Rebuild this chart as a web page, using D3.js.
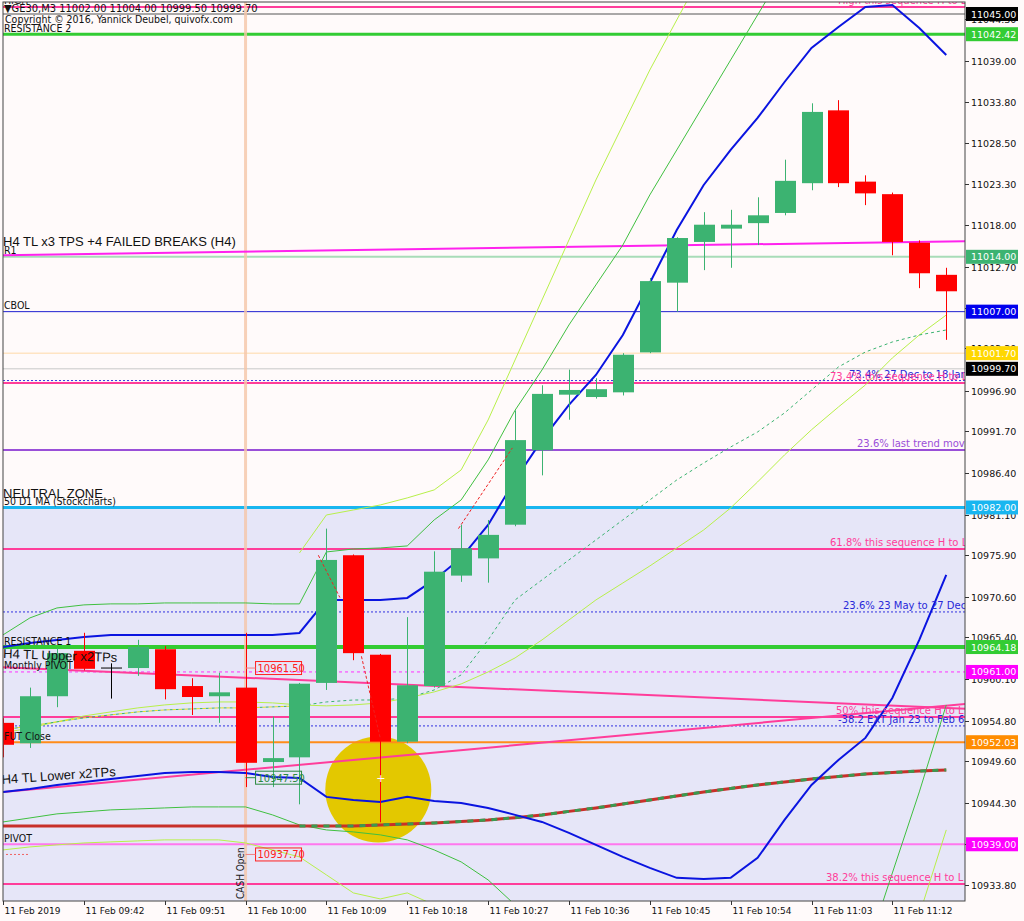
<!DOCTYPE html>
<html><head><meta charset="utf-8">
<script src="https://cdn.jsdelivr.net/npm/d3@7"></script>
<style>body{margin:0;background:#fffafa;} svg{display:block}</style>
</head><body><svg id="c" width="1024" height="921"></svg>
<script>
// ---------------- DATA ----------------
const barTimes = ["09:33","09:36","09:39","09:42","09:45","09:48","09:51","09:54","09:57","10:00","10:03","10:06","10:09","10:12","10:15","10:18","10:21","10:24","10:27","10:30","10:33","10:36","10:39","10:42","10:45","10:48","10:51","10:54","10:57","11:00","11:03","11:06","11:09","11:12","11:15","11:18"];
const open  = [10954.5,10951.9,10957.9,10963.7,10961.5,10961.5,10963.9,10959.2,10957.9,10959.0,10949.5,10950.1,10959.6,10975.9,10963.2,10952.1,10959.2,10973.3,10975.5,10979.8,10989.3,10996.4,10996.1,10996.7,11001.8,11010.7,11015.9,11017.6,11018.3,11019.6,11023.4,11032.7,11023.6,11022.0,11015.8,11011.7];
const high  = [10955.1,10959.0,10964.1,10966.0,10962.1,10965.1,10964.3,10960.2,10960.9,10966.0,10955.3,10959.6,10979.3,10976.0,10963.3,10968.0,10976.4,10979.8,10980.4,10994.4,10997.6,10999.6,10998.5,11001.7,11011.3,11016.5,11019.7,11020.0,11021.6,11026.4,11033.6,11034.0,11024.4,11022.2,11016.1,11012.6];
const low   = [10950.1,10951.3,10956.5,10961.2,10957.6,10960.5,10957.5,10955.5,10954.5,10946.3,10946.3,10944.1,10958.7,10962.5,10941.8,10951.9,10959.0,10972.5,10972.4,10979.6,10986.1,10993.2,10995.9,10996.3,11001.7,11007.0,11012.3,11012.6,11015.5,11019.3,11022.5,11022.9,11020.6,11014.2,11010.0,11003.4];
const close = [10951.7,10957.9,10963.4,10961.4,10961.5,10964.2,10958.8,10957.8,10958.4,10949.4,10950.0,10959.5,10975.3,10963.4,10952.1,10959.3,10973.8,10976.8,10978.5,10990.6,10996.5,10997.0,10997.1,11001.5,11010.9,11016.4,11018.1,11018.1,11019.3,11023.7,11032.5,11023.4,11022.1,11015.9,11011.9,11009.6];

const channelUpper = [10964.19,10964.70,10965.09,10965.47,10965.73,10965.73,10965.73,10965.73,10965.73,10965.73,10965.73,10965.98,10970.19,10970.19,10970.19,10970.45,10972.75,10975.56,10979.77,10985.51,10990.62,10995.09,10998.92,11004.02,11010.66,11017.43,11023.17,11027.64,11031.73,11036.32,11040.66,11043.35,11045.90,11046.15,11043.22,11039.77];
const channelLower = [10945.68,10946.07,10946.58,10946.96,10947.34,10947.73,10948.11,10948.24,10948.24,10948.11,10947.60,10947.47,10945.05,10944.66,10944.41,10945.05,10944.53,10944.28,10943.64,10942.75,10941.85,10940.45,10938.92,10937.39,10935.98,10934.71,10934.58,10934.71,10937.26,10942.11,10946.58,10949.77,10952.58,10957.68,10965.09,10973.39];
const bandUpper = [10965.73,10967.90,10969.17,10969.56,10969.69,10969.69,10969.81,10969.81,10969.81,10969.81,10969.69,10969.69,10976.32,10976.70,10976.83,10977.09,10980.41,10982.96,10988.07,10994.41,10999.56,11005.30,11010.41,11015.51,11021.90,11027.64,11033.39,11039.13,11044.88,11050.62,11056.36];
const bandLower = [10941.85,10942.36,10942.88,10943.13,10943.39,10943.51,10943.64,10943.77,10943.77,10943.77,10942.75,10941.47,10940.83,10940.58,10940.20,10939.56,10938.28,10936.75,10934.45,10931.26,10928.07,10920,10920,10920,10920,10920,10920,10920,10920,10920,10920,10920,10924.88,10935.34,10945.68,10956.79];
const outerUpperStart = 11;
const outerUpper = [10976.19,10981.04,10981.68,10982.32,10983.22,10984.24,10986.79,10993.17,11000.83,11008.49,11016.15,11023.81,11030.83,11037.85,11044.24,11050.62];
const outerLower = [10938.28,10938.66,10938.92,10939.17,10939.30,10939.43,10939.56,10939.56,10939.56,10939.17,10938.28,10937.39,10935.09,10932.79,10932.02,10932.79,10931.26,10929.35,10920,10920,10920,10920,10920,10920,10920,10920,10920,10920,10920,10920,10920,10920,10920,10920,10929.99,10940.83];
const maDashed = [10953.60,10954.11,10954.63,10955.13,10955.52,10955.90,10956.15,10956.28,10956.41,10956.41,10956.54,10956.67,10957.17,10957.42,10957.42,10957.68,10958.70,10960.62,10965.09,10970.19,10972.75,10975.30,10977.85,10980.41,10982.96,10985.51,10987.68,10989.72,10991.64,10994.07,10997.00,10999.94,11001.85,11003.13,11004.02,11004.66];
const maSolid = [10953.21,10953.85,10954.63,10955.38,10955.90,10956.41,10956.79,10957.05,10957.17,10957.17,10957.05,10956.79,10956.67,10956.79,10957.05,10957.68,10958.45,10959.47,10961.00,10962.79,10965.09,10967.64,10970.19,10972.36,10974.53,10976.83,10979.13,10981.94,10985.26,10988.71,10991.92,10994.83,10997.64,11001.09,11004.02,11006.57];
const maSlow = [10941.34,10941.34,10941.34,10941.34,10941.34,10941.34,10941.34,10941.34,10941.34,10941.34,10941.34,10941.34,10941.34,10941.34,10941.47,10941.60,10941.73,10941.90,10942.11,10942.40,10942.75,10943.20,10943.64,10944.15,10944.66,10945.17,10945.68,10946.13,10946.58,10946.96,10947.34,10947.66,10947.98,10948.17,10948.36,10948.49];

const levelNames  = ["HIGH","HIGH2","RESISTANCE 2","R1","CBOL","GOLD","BID","FIB734B","FIB734P","FIB236L","50 D1 MA","FIB618","FIB236M","RESISTANCE 1","Monthly PIVOT","FIB50","EXT382","FUT Close","PIVOT","FIB382"];
const levelValues = [11045.9,11045.0,11042.42,11014.0,11007.0,11001.7,10999.7,10998.2,10997.9,10989.34,10982.0,10976.7,10968.66,10964.18,10961.0,10955.26,10954.11,10952.03,10939.0,10933.94];
const leftTexts   = ["HIGH","","RESISTANCE 2","R1","CBOL","","","","","","50 D1 MA (Stockcharts)","","","RESISTANCE 1","Monthly PIVOT","","","FUT Close","PIVOT",""];
const rightTexts  = ["High  this sequence H to L","","","","","","","73.4% 27 Dec to 18 Jan","73.4% this sequence H to L","23.6% last trend move","","61.8%  this sequence H to L","23.6%  23 May to 27 Dec","","","50%  this sequence H to L","-38.2  EXT Jan 23 to Feb 6","","","38.2%  this sequence H to L"];
const priceBoxes  = [11045.00,11042.42,11014.00,11007.00,11001.70,10999.70,10982.00,10964.18,10961.00,10952.03,10939.00];
const yTicks = [11044.30,11039.00,11033.80,11028.50,11023.30,11018.00,11012.70,11007.50,11002.30,10996.90,10991.70,10986.40,10981.10,10975.90,10970.60,10965.40,10960.10,10954.80,10949.60,10944.30,10939.00,10933.80];
const xTickBars = [0,3,6,9,12,15,18,21,24,27,30,33];
const xTickLabels = ["11 Feb 2019","11 Feb 09:42","11 Feb 09:51","11 Feb 10:00","11 Feb 10:09","11 Feb 10:18","11 Feb 10:27","11 Feb 10:36","11 Feb 10:45","11 Feb 10:54","11 Feb 11:03","11 Feb 11:12"];
const trendBars = [0, 35.7];
const tlFailed = [11014.2, 11016.0];
const tlUpper  = [10961.6, 10956.3];
const tlLower  = [10945.68, 10956.9];
const markLabels = [10961.50, 10947.50, 10937.70];
const cashOpenBar = 9;
const highlightBar = 14, highlightPrice = 10946.0;
const header = "▼GE30,M3  11002.00 11004.00 10999.50 10999.70";
const copyright = "Copyright © 2016, Yannick Deubel, quivofx.com";

// ---------------- SCALES ----------------
const L = 3, R = 965, T = 2, B = 901;
const x = d3.scaleLinear().domain([0, 35]).range([3, 946.25]);
const y = d3.scaleLinear().domain([10933.8, 11039]).range([885, 61]);

const svg = d3.select("#c");
svg.append("rect").attr("width",1024).attr("height",921).attr("fill","#fffafa");
const defs = svg.append("defs");
defs.append("clipPath").attr("id","clip").append("rect").attr("x",L).attr("y",T).attr("width",R-L).attr("height",B-T);
const g = svg.append("g").attr("clip-path","url(#clip)");

// neutral zone
g.append("rect").attr("x",L).attr("width",R-L).attr("y",y(10982)).attr("height",B-y(10982)).attr("fill","#e6e6f8");

// highlight circle
g.append("circle").attr("cx",x(highlightBar)-2).attr("cy",y(highlightPrice)).attr("r",53).attr("fill","#e3c800");

// level lines
const lvStyle = {
  "HIGH":{c:"#ff3d9a",w:2,tx:838,tc:"#ff3d9a"},"HIGH2":{c:"#555",w:1},"RESISTANCE 2":{c:"#33cc33",w:3},"R1":{c:"#a8dcb8",w:2},
  "CBOL":{c:"#2020d0",w:1},"GOLD":{c:"#ffd9a8",w:1},"BID":{c:"#c8c8c8",w:1},"FIB734B":{c:"#3030e0",w:1,d:"2,2",tx:849,tc:"#2828d8"},
  "FIB734P":{c:"#ff3d9a",w:2,tx:830,tc:"#ff3d9a"},"FIB236L":{c:"#9a4fd8",w:2,tx:857,tc:"#9a4fd8"},"50 D1 MA":{c:"#19b6f0",w:3},"FIB618":{c:"#ff3d9a",w:2,tx:830,tc:"#ff3d9a"},
  "FIB236M":{c:"#3030e0",w:1,d:"2,2",tx:843,tc:"#2828d8"},"RESISTANCE 1":{c:"#33cc33",w:4},"Monthly PIVOT":{c:"#ff30ff",w:1,d:"3,3"},
  "FIB50":{c:"#ff3d9a",w:2,tx:836,tc:"#ff3d9a"},"EXT382":{c:"#3030e0",w:1,d:"2,2",tx:838,tc:"#2828d8"},"FUT Close":{c:"#ff8c1a",w:2},"PIVOT":{c:"#ff77ee",w:2},"FIB382":{c:"#ff3d9a",w:2,tx:826,tc:"#ff3d9a"}
};
levelNames.forEach((n,i)=>{
  const s = lvStyle[n];
  g.append("line").attr("x1",L).attr("x2",R).attr("y1",y(levelValues[i])).attr("y2",y(levelValues[i]))
   .attr("stroke",s.c).attr("stroke-width",s.w).attr("stroke-dasharray",s.d||null);
});

// CASH Open vertical
g.append("line").attr("x1",x(cashOpenBar)).attr("x2",x(cashOpenBar)).attr("y1",T).attr("y2",B)
 .attr("stroke","#f5c6a8").attr("stroke-opacity",0.8).attr("stroke-width",3);

// trend lines
const tl = (vals,col,w)=>g.append("line").attr("x1",x(trendBars[0])).attr("x2",x(trendBars[1]))
  .attr("y1",y(vals[0])).attr("y2",y(vals[1])).attr("stroke",col).attr("stroke-width",w);
tl(tlFailed,"#ff22ee",2);
tl(tlUpper,"#ff3d9a",2);
tl(tlLower,"#ff3d9a",2);

// indicator lines
const line = d3.line().x(d=>x(d[0])).y(d=>y(d[1]));
const series = (arr,start)=>arr.map((v,i)=>[i+(start||0),v]);
g.append("path").attr("d",line(series(outerUpper,outerUpperStart))).attr("fill","none").attr("stroke","#b8f04a").attr("stroke-width",1);
g.append("path").attr("d",line(series(outerLower))).attr("fill","none").attr("stroke","#b8f04a").attr("stroke-width",1);
g.append("path").attr("d",line(series(bandUpper))).attr("fill","none").attr("stroke","#40c040").attr("stroke-width",1);
g.append("path").attr("d",line(series(bandLower))).attr("fill","none").attr("stroke","#40c040").attr("stroke-width",1);
g.append("path").attr("d",line(series(maSolid))).attr("fill","none").attr("stroke","#b8f04a").attr("stroke-width",1);
g.append("path").attr("d",line(series(maDashed))).attr("fill","none").attr("stroke","#3cb371").attr("stroke-width",1).attr("stroke-dasharray","3,3");
g.append("path").attr("d",line(series(maDashed).slice(0,12))).attr("fill","none").attr("stroke","#e8e020").attr("stroke-width",1).attr("stroke-dasharray","3,3").attr("stroke-dashoffset",3);
g.append("path").attr("d",line(series(maSlow))).attr("fill","none").attr("stroke","#c8302a").attr("stroke-width",3);
g.append("path").attr("d",line(series(maSlow).slice(11))).attr("fill","none").attr("stroke","#3a9a50").attr("stroke-width",3).attr("stroke-dasharray","6,6");
g.append("path").attr("d",line(series(channelUpper))).attr("fill","none").attr("stroke","#0a14e0").attr("stroke-width",2);
g.append("path").attr("d",line(series(channelLower))).attr("fill","none").attr("stroke","#0a14e0").attr("stroke-width",2);

// candles
const bw = 21;
const bars = d3.range(open.length);
const cg = g.append("g");
bars.forEach(i=>{
  const up = close[i] > open[i], doji = close[i] === open[i];
  const col = doji ? "#000" : (up ? "#3cb371" : "#ff0000");
  const cx = Math.round(x(i))+0.5;
  cg.append("line").attr("x1",cx).attr("x2",cx).attr("y1",y(high[i])).attr("y2",y(low[i])).attr("stroke",col).attr("stroke-width",1);
  const top = y(Math.max(open[i],close[i])), bot = y(Math.min(open[i],close[i]));
  if (doji) cg.append("line").attr("x1",cx-bw/2).attr("x2",cx+bw/2).attr("y1",top).attr("y2",top).attr("stroke",col).attr("stroke-width",1);
  else cg.append("rect").attr("x",cx-bw/2).attr("width",bw).attr("y",top).attr("height",Math.max(2,bot-top)).attr("fill",col);
});

// trade arrows
const ta = g.append("g").attr("stroke","#ee2222").attr("stroke-width",1).attr("stroke-dasharray","3,2").attr("fill","none");
ta.append("line").attr("x1",x(11.7)).attr("y1",y(10975.9)).attr("x2",x(12.5)).attr("y2",y(10970.5));
ta.append("line").attr("x1",x(13.3)).attr("y1",y(10963.0)).attr("x2",x(14)).attr("y2",y(10952.5));
ta.append("line").attr("x1",x(16.9)).attr("y1",y(10979.3)).attr("x2",x(18.9)).attr("y2",y(10989.6));
g.append("text").attr("x",x(14)-4).attr("y",y(10947.5)+4).attr("font-size",11).attr("fill","#fff").attr("font-family","DejaVu Sans").text("+");

// price mark labels
const mk = g.append("g").attr("font-family","DejaVu Sans Condensed").attr("font-size",11);
markLabels.forEach((v,i)=>{
  const col = i===1 ? "#2a8a40" : "#ff2020";
  const yy = y(v);
  g.append("line").attr("x1",x(cashOpenBar)).attr("x2",x(cashOpenBar)+10).attr("y1",yy).attr("y2",yy).attr("stroke",i===1?"#2a8a40":"#f08080").attr("stroke-width",1);
  mk.append("rect").attr("x",x(cashOpenBar)+10).attr("y",yy-6.5).attr("width",46).attr("height",13).attr("fill","none").attr("stroke",col).attr("stroke-width",1);
  mk.append("text").attr("x",x(cashOpenBar)+12).attr("y",yy+4).attr("fill",col).text(v.toFixed(2));
});

// level texts
const tx = g.append("g").attr("font-family","DejaVu Sans Condensed").attr("font-size",10.5);
const rtx = g.append("g").attr("font-family","DejaVu Sans").attr("font-size",10);
levelNames.forEach((n,i)=>{
  const yy = y(levelValues[i]);
  const s = lvStyle[n];
  if (leftTexts[i]) tx.append("text").attr("x",4).attr("y",yy-2.5).attr("fill","#111").text(leftTexts[i]);
  if (rightTexts[i]) rtx.append("text").attr("x",s.tx).attr("y",yy-3).attr("fill",s.tc).text(rightTexts[i]);
});
const big = g.append("g").attr("font-family","Liberation Sans").attr("font-size",13).attr("fill","#111");
big.append("text").attr("x",3).attr("y",y(tlFailed[0])-9).text("H4 TL x3 TPS +4 FAILED BREAKS (H4)");
big.append("text").attr("x",3).attr("y",y(10982)-9).text("NEUTRAL ZONE");
big.append("text").attr("transform",`translate(3,${y(10964.18)+11}) rotate(2)`).text("H4 TL Upper x2TPs");
big.append("text").attr("transform",`translate(2,${y(tlLower[0])-8}) rotate(-4)`).text("H4 TL Lower  x2TPs");
g.append("text").attr("transform",`translate(${x(cashOpenBar)-2},${B-2}) rotate(-90)`).attr("font-family","DejaVu Sans Condensed").attr("font-size",10).attr("fill","#222").text("CASH Open");
g.append("line").attr("x1",6).attr("x2",30).attr("y1",y(10937.7)).attr("y2",y(10937.7)).attr("stroke","#f06060").attr("stroke-dasharray","2,2");

// header
const hd = svg.append("g").attr("font-family","DejaVu Sans Condensed").attr("fill","#111");
hd.append("text").attr("x",4).attr("y",12).attr("font-size",11).text(header);
hd.append("text").attr("x",5).attr("y",23).attr("font-size",10.5).text(copyright);

// frame
svg.append("rect").attr("x",L).attr("y",T).attr("width",R-L).attr("height",B-T).attr("fill","none").attr("stroke","#444").attr("stroke-width",1);

// y axis
const ax = svg.append("g").attr("font-family","DejaVu Sans").attr("font-size",9.5).attr("fill","#111");
yTicks.forEach(v=>{
  const yy = Math.round(y(v))+0.5;
  ax.append("line").attr("x1",R).attr("x2",R+4).attr("y1",yy).attr("y2",yy).attr("stroke","#333");
  ax.append("text").attr("x",R+6).attr("y",yy+3.5).text(v.toFixed(2));
});
const boxCol = {"11045.00":"#000","11042.42":"#33cc33","11014.00":"#3cb371","11007.00":"#0000ee","11001.70":"#ffd700","10999.70":"#000","10982.00":"#19b6f0","10964.18":"#33cc33","10961.00":"#ff00ff","10952.03":"#ff8c00","10939.00":"#ff00ff"};
priceBoxes.forEach(v=>{
  const yy = y(v), k = v.toFixed(2);
  ax.append("rect").attr("x",R+1).attr("y",yy-7).attr("width",52).attr("height",14).attr("fill",boxCol[k]);
  ax.append("text").attr("x",R+6).attr("y",yy+3.5).attr("fill","#fff").text(k);
});

// x axis
const xa = svg.append("g").attr("font-family","DejaVu Sans").attr("font-size",9).attr("fill","#111");
xTickBars.forEach((b,i)=>{
  const xx = Math.round(x(b))+0.5;
  xa.append("line").attr("x1",xx).attr("x2",xx).attr("y1",B).attr("y2",B+4).attr("stroke","#333");
  xa.append("text").attr("x",xx+1).attr("y",B+13).text(xTickLabels[i]);
});
</script></body></html>
